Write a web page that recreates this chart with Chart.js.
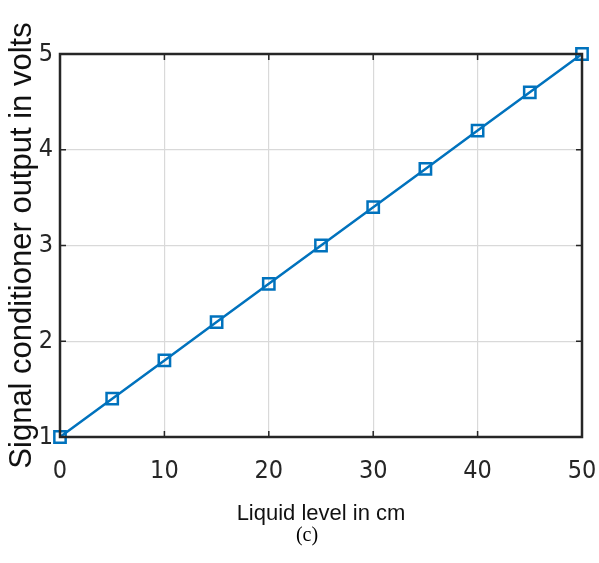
<!DOCTYPE html>
<html>
<head>
<meta charset="utf-8">
<script src="https://cdn.jsdelivr.net/npm/chart.js@4"></script>
<style>
  html, body { margin: 0; padding: 0; background: #fff; }
  #wrap { width: 599px; height: 563px; }
</style>
</head>
<body>
<div id="wrap"><canvas id="chartCanvas" width="599" height="563"></canvas></div>
<script>
// data
var levels = [0, 5, 10, 15, 20, 25, 30, 35, 40, 45, 50]          // cm
var volts  = [1, 1.4, 1.8, 2.2, 2.6, 3.0, 3.4, 3.8, 4.2, 4.6, 5.0]
var xTicks = [0, 10, 20, 30, 40, 50]
var yTicks = [1, 2, 3, 4, 5]

var xTitle = "Liquid level in cm"
var yTitle = "Signal conditioner output in volts"
var caption = "(c)"

var blue = "#0072BD"
var axisColor = "#262626"
var narrow = "'Liberation Sans Narrow', 'Arial Narrow', 'DejaVu Sans Condensed', sans-serif"

var points = levels.map((x, i) => ({ x: x, y: volts[i] }))

// frame, inward ticks on all four sides, and the caption under the chart
var framePlugin = {
    id: "frame",
    afterDatasetsDraw(chart) {
        var ctx = chart.ctx
        var a = chart.chartArea
        var xs = chart.scales.x
        var ys = chart.scales.y
        ctx.save()
        ctx.strokeStyle = axisColor
        ctx.lineWidth = 1.5
        ctx.beginPath()
        xTicks.forEach(v => {
            var px = xs.getPixelForValue(v)
            ctx.moveTo(px, a.bottom); ctx.lineTo(px, a.bottom - 6)
            ctx.moveTo(px, a.top); ctx.lineTo(px, a.top + 6)
        })
        yTicks.forEach(v => {
            var py = ys.getPixelForValue(v)
            ctx.moveTo(a.left, py); ctx.lineTo(a.left + 6, py)
            ctx.moveTo(a.right, py); ctx.lineTo(a.right - 6, py)
        })
        ctx.stroke()
        ctx.lineWidth = 2.5
        ctx.strokeRect(a.left, a.top, a.right - a.left, a.bottom - a.top)
        ctx.restore()
    },
    afterDraw(chart) {
        var ctx = chart.ctx
        ctx.save()
        ctx.fillStyle = "#000"
        ctx.font = "20px 'Liberation Serif', 'Times New Roman', serif"
        ctx.textAlign = "center"
        ctx.textBaseline = "middle"
        ctx.fillText(caption, 307, 536)
        ctx.restore()
    }
}

new Chart(document.getElementById("chartCanvas"), {
    type: "scatter",
    data: {
        datasets: [{
            data: points,
            showLine: true,
            borderColor: blue,
            borderWidth: 2.5,
            backgroundColor: "rgba(0,0,0,0)",
            pointStyle: "rect",
            pointRadius: 8,
            pointHoverRadius: 8,
            pointBorderColor: blue,
            pointBorderWidth: 2.5,
            clip: false
        }]
    },
    options: {
        responsive: false,
        animation: false,
        layout: { padding: { top: 54, right: 0, left: 0, bottom: 0 } },
        plugins: { legend: { display: false }, tooltip: { enabled: false } },
        scales: {
            x: {
                type: "linear",
                min: 0, max: 50,
                afterBuildTicks: s => { s.ticks = xTicks.map(v => ({ value: v })) },
                afterFit: s => { s.height = 126; s.paddingRight = 17; s.paddingLeft = 0 },
                grid: { color: "#d9d9d9", lineWidth: 1.2, drawTicks: false },
                border: { display: false },
                ticks: { color: axisColor, padding: 19, font: { family: narrow, size: 25 } },
                title: {
                    display: true, text: xTitle, color: "#111",
                    font: { family: "'Liberation Sans', Arial, sans-serif", size: 22, lineHeight: 1 },
                    padding: { top: 0, bottom: 38 }
                }
            },
            y: {
                type: "linear",
                min: 1, max: 5,
                afterBuildTicks: s => { s.ticks = yTicks.map(v => ({ value: v })) },
                afterFit: s => { s.width = 60 },
                grid: { color: "#d9d9d9", lineWidth: 1.2, drawTicks: false },
                border: { display: false },
                ticks: { color: axisColor, padding: 7, font: { family: narrow, size: 25 } },
                title: {
                    display: true, text: yTitle, color: "#111",
                    font: { family: "'Liberation Sans', Arial, sans-serif", size: 31, lineHeight: 1 },
                    padding: { top: 7, bottom: 0 }
                }
            }
        }
    },
    plugins: [framePlugin]
})
</script>
</body>
</html>
